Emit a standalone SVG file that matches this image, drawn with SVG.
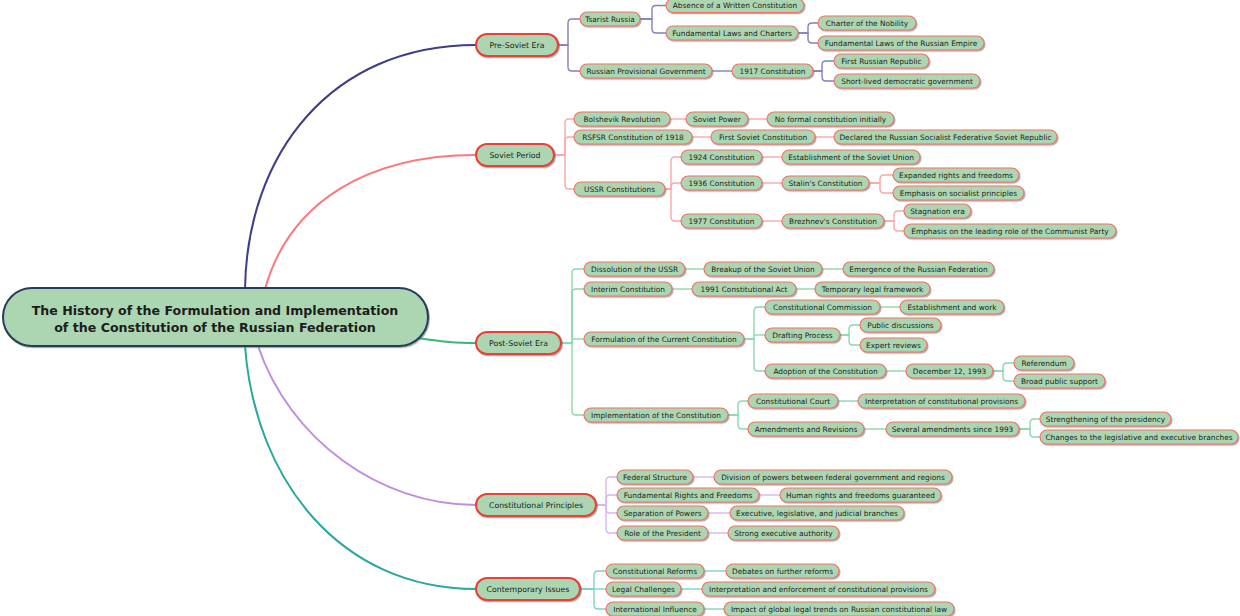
<svg xmlns="http://www.w3.org/2000/svg" width="1240" height="616" viewBox="0 0 1240 616">
<defs>
<filter id="sh" x="-10%" y="-30%" width="120%" height="170%">
<feDropShadow dx="1" dy="1.2" stdDeviation="0.6" flood-color="#6a6a6a" flood-opacity="0.55"/>
</filter>
<style>
.n rect{fill:#acd6b2;stroke:#f27266;stroke-width:1.2;filter:url(#sh)}
.b rect{fill:#acd6b2;stroke:#ea3f34;stroke-width:2;filter:url(#sh)}
.r rect{fill:#acd6b2;stroke:#283c5a;stroke-width:2;filter:url(#sh)}
text{font-family:"DejaVu Sans","Liberation Sans",sans-serif;font-size:7.4px;fill:#1c1c1c;text-anchor:middle}
.b text{font-size:7.8px}
.r text{font-size:12.6px;font-weight:bold}
.c path{fill:none;stroke-width:1.4}
.main path{fill:none;stroke-width:2}
</style>
</defs>
<rect width="1240" height="616" fill="#ffffff"/>
<g id="connectors">
<g class="main">
<path d="M245,289 C247,155 330,45 476,45" stroke="#3d3d8a"/>
<path d="M265,289 C290,200 370,155 476,155" stroke="#f87a7a"/>
<path d="M418,338 C445,342 455,343 476,343" stroke="#3bb873"/>
<path d="M258,346 C290,440 380,505 476,505" stroke="#c08ce0"/>
<path d="M245,346 C255,480 340,589 476,589" stroke="#2aa89b"/>
</g>
<g class="c" stroke="#8080c0">
<path d="M558,45 H568 V23 Q568,19 572,19 H580"/>
<path d="M558,45 H568 V67 Q568,71 572,71 H580"/>
<path d="M640,19 H652 V9.5 Q652,5.5 656,5.5 H666"/>
<path d="M640,19 H652 V29 Q652,33 656,33 H666"/>
<path d="M798,33 H808 V27 Q808,23 812,23 H818"/>
<path d="M798,33 H808 V39 Q808,43 812,43 H818"/>
<path d="M712,71 H732"/>
<path d="M813,71 H822 V65 Q822,61 826,61 H834"/>
<path d="M813,71 H822 V77 Q822,81 826,81 H834"/>
</g>
<g class="c" stroke="#f8a8a8">
<path d="M554,155 H565 V123 Q565,119 569,119 H574"/>
<path d="M554,155 H565 V141 Q565,137 569,137 H574"/>
<path d="M554,155 H565 V185 Q565,189 569,189 H574"/>
<path d="M670,119 H686"/>
<path d="M748,119 H767"/>
<path d="M692,137 H711"/>
<path d="M815,137 H834"/>
<path d="M665,189 H671 V161 Q671,157 675,157 H681"/>
<path d="M665,189 H671 V187 Q671,183 675,183 H681"/>
<path d="M665,189 H671 V217 Q671,221 675,221 H681"/>
<path d="M762,157 H782"/>
<path d="M762,183 H782"/>
<path d="M762,221 H782"/>
<path d="M869,183 H880 V179 Q880,175 884,175 H893"/>
<path d="M869,183 H880 V189 Q880,193 884,193 H893"/>
<path d="M884,221 H894 V215 Q894,211 898,211 H904"/>
<path d="M884,221 H894 V227 Q894,231 898,231 H904"/>
</g>
<g class="c" stroke="#8fd6ae">
<path d="M561,343 H572 V273 Q572,269 576,269 H584"/>
<path d="M561,343 H572 V293 Q572,289 576,289 H584"/>
<path d="M572,339 H584"/>
<path d="M561,343 H572 V411 Q572,415 576,415 H584"/>
<path d="M685,269 H704"/>
<path d="M822,269 H843"/>
<path d="M672,289 H692"/>
<path d="M796,289 H815"/>
<path d="M744,339 H754 V311 Q754,307 758,307 H765"/>
<path d="M754,335 H765"/>
<path d="M744,339 H754 V367 Q754,371 758,371 H765"/>
<path d="M880,307 H900"/>
<path d="M840,335 H849 V329 Q849,325 853,325 H860"/>
<path d="M840,335 H849 V341 Q849,345 853,345 H860"/>
<path d="M886,371 H906"/>
<path d="M993,371 H1003 V367 Q1003,363 1007,363 H1014"/>
<path d="M993,371 H1003 V377 Q1003,381 1007,381 H1014"/>
<path d="M728,415 H738 V405 Q738,401 742,401 H748"/>
<path d="M728,415 H738 V425 Q738,429 742,429 H748"/>
<path d="M838,401 H858"/>
<path d="M864,429 H886"/>
<path d="M1019,429 H1030 V423 Q1030,419 1034,419 H1040"/>
<path d="M1019,429 H1030 V433 Q1030,437 1034,437 H1040"/>
</g>
<g class="c" stroke="#dab4ee">
<path d="M596,505 H606 V481 Q606,477 610,477 H617"/>
<path d="M596,505 H606 V499 Q606,495 610,495 H617"/>
<path d="M596,505 H606 V509 Q606,513 610,513 H617"/>
<path d="M596,505 H606 V529 Q606,533 610,533 H617"/>
<path d="M693,477 H714"/>
<path d="M759,495 H780"/>
<path d="M708,513 H730"/>
<path d="M708,533 H728"/>
</g>
<g class="c" stroke="#80d0c8">
<path d="M580,589 H594 V575 Q594,571 598,571 H606"/>
<path d="M580,589 H606"/>
<path d="M580,589 H594 V605 Q594,609 598,609 H606"/>
<path d="M704,571 H726"/>
<path d="M681,589 H702"/>
<path d="M704,609 H724"/>
</g>
</g>

<g id="root" class="r"><rect x="3" y="288" width="425" height="58" rx="29"/><text x="215" y="315">The History of the Formulation and Implementation</text><text x="215" y="332">of the Constitution of the Russian Federation</text></g>

<g id="pre-soviet" class="b"><rect x="476" y="34" width="82" height="22" rx="11"/><text x="517" y="47.8">Pre-Soviet Era</text></g>
<g id="tsarist" class="n"><rect x="580" y="12" width="60" height="14" rx="7"/><text x="610" y="21.7">Tsarist Russia</text></g>
<g id="absence" class="n"><rect x="666" y="-1.5" width="138" height="14" rx="7"/><text x="735" y="8.2">Absence of a Written Constitution</text></g>
<g id="fund-laws" class="n"><rect x="666" y="26" width="132" height="14" rx="7"/><text x="732" y="35.7">Fundamental Laws and Charters</text></g>
<g id="nobility" class="n"><rect x="818" y="16" width="98" height="14" rx="7"/><text x="867" y="25.7">Charter of the Nobility</text></g>
<g id="fund-empire" class="n"><rect x="818" y="36" width="166" height="14" rx="7"/><text x="901" y="45.7">Fundamental Laws of the Russian Empire</text></g>
<g id="provisional" class="n"><rect x="580" y="64" width="132" height="14" rx="7"/><text x="646" y="73.7">Russian Provisional Government</text></g>
<g id="c1917" class="n"><rect x="732" y="64" width="81" height="14" rx="7"/><text x="772.5" y="73.7">1917 Constitution</text></g>
<g id="first-republic" class="n"><rect x="834" y="54" width="95" height="14" rx="7"/><text x="881.5" y="63.7">First Russian Republic</text></g>
<g id="short-lived" class="n"><rect x="834" y="74" width="146" height="14" rx="7"/><text x="907" y="83.7">Short-lived democratic government</text></g>

<g id="soviet" class="b"><rect x="476" y="144" width="78" height="22" rx="11"/><text x="515" y="157.8">Soviet Period</text></g>
<g id="bolshevik" class="n"><rect x="574" y="112" width="96" height="14" rx="7"/><text x="622" y="121.7">Bolshevik Revolution</text></g>
<g id="soviet-power" class="n"><rect x="686" y="112" width="62" height="14" rx="7"/><text x="717" y="121.7">Soviet Power</text></g>
<g id="no-formal" class="n"><rect x="767" y="112" width="127" height="14" rx="7"/><text x="830.5" y="121.7">No formal constitution initially</text></g>
<g id="rsfsr" class="n"><rect x="574" y="130" width="118" height="14" rx="7"/><text x="633" y="139.7">RSFSR Constitution of 1918</text></g>
<g id="first-soviet" class="n"><rect x="711" y="130" width="104" height="14" rx="7"/><text x="763" y="139.7">First Soviet Constitution</text></g>
<g id="declared" class="n"><rect x="834" y="130" width="223" height="14" rx="7"/><text x="945.5" y="139.7">Declared the Russian Socialist Federative Soviet Republic</text></g>
<g id="ussr" class="n"><rect x="574" y="182" width="91" height="14" rx="7"/><text x="619.5" y="191.7">USSR Constitutions</text></g>
<g id="c1924" class="n"><rect x="681" y="150" width="81" height="14" rx="7"/><text x="721.5" y="159.7">1924 Constitution</text></g>
<g id="establish-su" class="n"><rect x="782" y="150" width="138" height="14" rx="7"/><text x="851" y="159.7">Establishment of the Soviet Union</text></g>
<g id="c1936" class="n"><rect x="681" y="176" width="81" height="14" rx="7"/><text x="721.5" y="185.7">1936 Constitution</text></g>
<g id="stalin" class="n"><rect x="782" y="176" width="87" height="14" rx="7"/><text x="825.5" y="185.7">Stalin's Constitution</text></g>
<g id="expanded" class="n"><rect x="893" y="168" width="126" height="14" rx="7"/><text x="956" y="177.7">Expanded rights and freedoms</text></g>
<g id="socialist" class="n"><rect x="893" y="186" width="131" height="14" rx="7"/><text x="958.5" y="195.7">Emphasis on socialist principles</text></g>
<g id="c1977" class="n"><rect x="681" y="214" width="81" height="14" rx="7"/><text x="721.5" y="223.7">1977 Constitution</text></g>
<g id="brezhnev" class="n"><rect x="782" y="214" width="102" height="14" rx="7"/><text x="833" y="223.7">Brezhnev's Constitution</text></g>
<g id="stagnation" class="n"><rect x="904" y="204" width="67" height="14" rx="7"/><text x="937.5" y="213.7">Stagnation era</text></g>
<g id="leading-role" class="n"><rect x="904" y="224" width="212" height="14" rx="7"/><text x="1010" y="233.7">Emphasis on the leading role of the Communist Party</text></g>

<g id="post-soviet" class="b"><rect x="476" y="332" width="85" height="22" rx="11"/><text x="518.5" y="345.8">Post-Soviet Era</text></g>
<g id="dissolution" class="n"><rect x="584" y="262" width="101" height="14" rx="7"/><text x="634.5" y="271.7">Dissolution of the USSR</text></g>
<g id="breakup" class="n"><rect x="704" y="262" width="118" height="14" rx="7"/><text x="763" y="271.7">Breakup of the Soviet Union</text></g>
<g id="emergence" class="n"><rect x="843" y="262" width="151" height="14" rx="7"/><text x="918.5" y="271.7">Emergence of the Russian Federation</text></g>
<g id="interim" class="n"><rect x="584" y="282" width="88" height="14" rx="7"/><text x="628" y="291.7">Interim Constitution</text></g>
<g id="act1991" class="n"><rect x="692" y="282" width="104" height="14" rx="7"/><text x="744" y="291.7">1991 Constitutional Act</text></g>
<g id="temporary" class="n"><rect x="815" y="282" width="115" height="14" rx="7"/><text x="872.5" y="291.7">Temporary legal framework</text></g>
<g id="formulation" class="n"><rect x="584" y="332" width="160" height="14" rx="7"/><text x="664" y="341.7">Formulation of the Current Constitution</text></g>
<g id="commission" class="n"><rect x="765" y="300" width="115" height="14" rx="7"/><text x="822.5" y="309.7">Constitutional Commission</text></g>
<g id="establish-work" class="n"><rect x="900" y="300" width="104" height="14" rx="7"/><text x="952" y="309.7">Establishment and work</text></g>
<g id="drafting" class="n"><rect x="765" y="328" width="75" height="14" rx="7"/><text x="802.5" y="337.7">Drafting Process</text></g>
<g id="public-disc" class="n"><rect x="860" y="318" width="81" height="14" rx="7"/><text x="900.5" y="327.7">Public discussions</text></g>
<g id="expert" class="n"><rect x="860" y="338" width="67" height="14" rx="7"/><text x="893.5" y="347.7">Expert reviews</text></g>
<g id="adoption" class="n"><rect x="765" y="364" width="121" height="14" rx="7"/><text x="825.5" y="373.7">Adoption of the Constitution</text></g>
<g id="dec1993" class="n"><rect x="906" y="364" width="87" height="14" rx="7"/><text x="949.5" y="373.7">December 12, 1993</text></g>
<g id="referendum" class="n"><rect x="1014" y="356" width="60" height="14" rx="7"/><text x="1044" y="365.7">Referendum</text></g>
<g id="broad-support" class="n"><rect x="1014" y="374" width="91" height="14" rx="7"/><text x="1059.5" y="383.7">Broad public support</text></g>
<g id="implementation" class="n"><rect x="584" y="408" width="144" height="14" rx="7"/><text x="656" y="417.7">Implementation of the Constitution</text></g>
<g id="court" class="n"><rect x="748" y="394" width="90" height="14" rx="7"/><text x="793" y="403.7">Constitutional Court</text></g>
<g id="interp-prov" class="n"><rect x="858" y="394" width="167" height="14" rx="7"/><text x="941.5" y="403.7">Interpretation of constitutional provisions</text></g>
<g id="amendments" class="n"><rect x="748" y="422" width="116" height="14" rx="7"/><text x="806" y="431.7">Amendments and Revisions</text></g>
<g id="several" class="n"><rect x="886" y="422" width="133" height="14" rx="7"/><text x="952.5" y="431.7">Several amendments since 1993</text></g>
<g id="presidency" class="n"><rect x="1040" y="412" width="131" height="14" rx="7"/><text x="1105.5" y="421.7">Strengthening of the presidency</text></g>
<g id="changes" class="n"><rect x="1040" y="430" width="198" height="14" rx="7"/><text x="1139" y="439.7">Changes to the legislative and executive branches</text></g>

<g id="principles" class="b"><rect x="476" y="494" width="120" height="22" rx="11"/><text x="536" y="507.8">Constitutional Principles</text></g>
<g id="federal" class="n"><rect x="617" y="470" width="76" height="14" rx="7"/><text x="655" y="479.7">Federal Structure</text></g>
<g id="division" class="n"><rect x="714" y="470" width="238" height="14" rx="7"/><text x="833" y="479.7">Division of powers between federal government and regions</text></g>
<g id="rights" class="n"><rect x="617" y="488" width="142" height="14" rx="7"/><text x="688" y="497.7">Fundamental Rights and Freedoms</text></g>
<g id="human-rights" class="n"><rect x="780" y="488" width="161" height="14" rx="7"/><text x="860.5" y="497.7">Human rights and freedoms guaranteed</text></g>
<g id="separation" class="n"><rect x="617" y="506" width="91" height="14" rx="7"/><text x="662.5" y="515.7">Separation of Powers</text></g>
<g id="branches" class="n"><rect x="730" y="506" width="174" height="14" rx="7"/><text x="817" y="515.7">Executive, legislative, and judicial branches</text></g>
<g id="president" class="n"><rect x="617" y="526" width="91" height="14" rx="7"/><text x="662.5" y="535.7">Role of the President</text></g>
<g id="strong-exec" class="n"><rect x="728" y="526" width="111" height="14" rx="7"/><text x="783.5" y="535.7">Strong executive authority</text></g>

<g id="contemporary" class="b"><rect x="476" y="578" width="104" height="22" rx="11"/><text x="528" y="591.8">Contemporary Issues</text></g>
<g id="reforms" class="n"><rect x="606" y="564" width="98" height="14" rx="7"/><text x="655" y="573.7">Constitutional Reforms</text></g>
<g id="debates" class="n"><rect x="726" y="564" width="113" height="14" rx="7"/><text x="782.5" y="573.7">Debates on further reforms</text></g>
<g id="legal" class="n"><rect x="606" y="582" width="75" height="14" rx="7"/><text x="643.5" y="591.7">Legal Challenges</text></g>
<g id="interp-enf" class="n"><rect x="702" y="582" width="233" height="14" rx="7"/><text x="818.5" y="591.7">Interpretation and enforcement of constitutional provisions</text></g>
<g id="international" class="n"><rect x="606" y="602" width="98" height="14" rx="7"/><text x="655" y="611.7">International Influence</text></g>
<g id="impact" class="n"><rect x="724" y="602" width="230" height="14" rx="7"/><text x="839" y="611.7">Impact of global legal trends on Russian constitutional law</text></g>
</svg>
